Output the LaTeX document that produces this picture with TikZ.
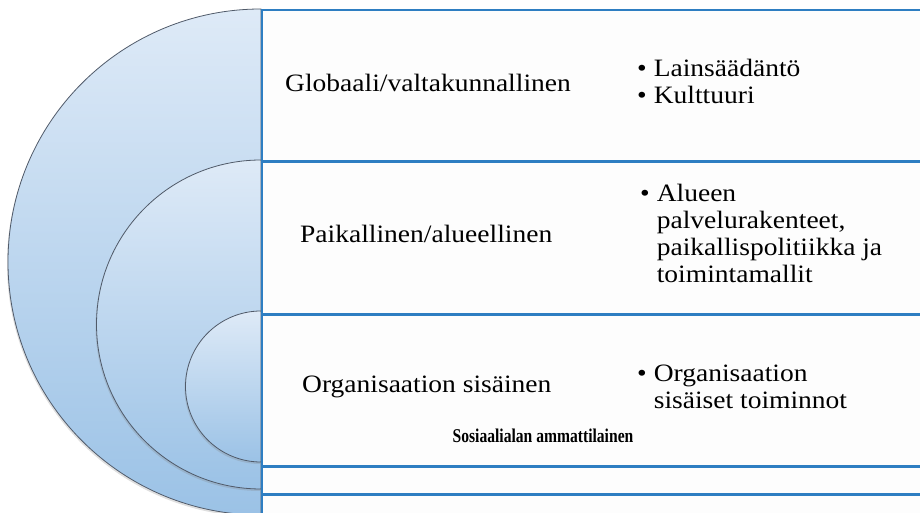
\documentclass[tikz,border=0pt]{standalone}
\usepackage{fontspec}
\setmainfont{Liberation Serif}[FakeStretch=1.1]
\newfontfamily\labelfont{Liberation Serif}[FakeStretch=0.8]
\usetikzlibrary{shadows}

\definecolor{rowblue}{RGB}{46,126,194}
\definecolor{ringtop}{RGB}{222,234,247}
\definecolor{ringbottom}{RGB}{155,194,230}
\definecolor{ringedge}{RGB}{80,90,105}
\definecolor{rowfill}{RGB}{253,253,253}

\begin{document}
\begin{tikzpicture}[x=1pt,y=1pt,
  ring/.style={draw=ringedge, line width=0.8pt, top color=ringtop, bottom color=ringbottom,
    drop shadow={shadow xshift=-1pt, shadow yshift=-2pt, opacity=0.25}},
  row/.style={draw=rowblue, line width=1.6pt, fill=rowfill, anchor=north west,
    minimum width=680pt, inner sep=0pt},
  level/.style={anchor=base west, inner sep=0pt, font=\fontsize{25}{27}\selectfont},
  items/.style={anchor=base west, inner sep=0pt, font=\fontsize{25}{27}\selectfont}]
\useasboundingbox (0,0) rectangle (920,513);
\clip (0,0) rectangle (920,513);

% half rings
\path[ring] (261,504) arc[start angle=90, end angle=270, radius=253] -- cycle;
\path[ring] (261,353) arc[start angle=90, end angle=270, radius=164.5] -- cycle;
\path[ring] (261,202) arc[start angle=90, end angle=270, radius=75.5] -- cycle;

% rows
\node[row, minimum height=151pt] (row1) at (261,504) {};
\node[row, minimum height=151pt] (row2) at (row1.south west) {};
\node[row, minimum height=151pt] (row3) at (row2.south west) {};
\node[row, minimum height=26pt] (row4) at (row3.south west) {};
\node[row, minimum height=40pt] (row5) at (row4.south west) {};

% levels
\node[level] (global) at (285,421) {Globaali/valtakunnallinen};
\node[level] (local) at (300,270) {Paikallinen/alueellinen};
\node[level] (inner) at (302,120) {Organisaation sisäinen};

% bullet lists
\node[items] (list1) at (637,436) {\begin{tabular}[t]{@{}l@{\hspace{7pt}}l@{}}
  \textbullet & Lainsäädäntö\\
  \textbullet & Kulttuuri
\end{tabular}};
\node[items] (list2) at (640,311) {\begin{tabular}[t]{@{}l@{\hspace{7pt}}l@{}}
  \textbullet & Alueen\\
  & palvelurakenteet,\\
  & paikallispolitiikka ja\\
  & toimintamallit
\end{tabular}};
\node[items] (list3) at (637,131) {\begin{tabular}[t]{@{}l@{\hspace{7pt}}l@{}}
  \textbullet & Organisaation\\
  & sisäiset toiminnot
\end{tabular}};

\node[anchor=base, inner sep=0pt, font=\labelfont\bfseries\fontsize{19.5}{21}\selectfont]
  (pro) at (543,70) {Sosiaalialan ammattilainen};
\end{tikzpicture}
\end{document}
